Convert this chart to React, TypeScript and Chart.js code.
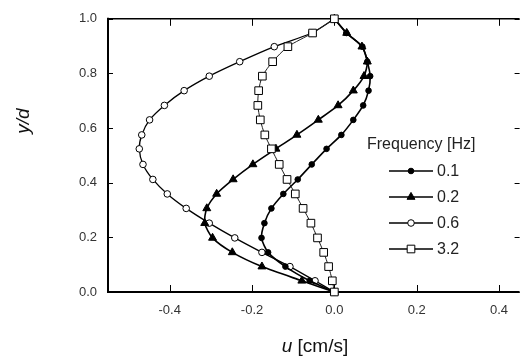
import React, { useEffect, useRef } from "react";
import { Chart, registerables } from "chart.js";

Chart.register(...registerables);

// ---- data ----
const ydValues = [0, 0.041, 0.093, 0.145, 0.198, 0.252, 0.306, 0.359, 0.412, 0.467, 0.524, 0.575, 0.63, 0.683, 0.737, 0.79, 0.843, 0.898, 0.948, 1.0];
const frequencyLabels = ["0.1", "0.2", "0.6", "3.2"];
const uFreq01 = [0, -0.06, -0.119, -0.161, -0.177, -0.17, -0.153, -0.124, -0.089, -0.055, -0.019, 0.017, 0.046, 0.07, 0.083, 0.087, 0.08, 0.068, 0.029, 0];
const uFreq02 = [0, -0.079, -0.176, -0.248, -0.296, -0.315, -0.31, -0.286, -0.246, -0.198, -0.142, -0.091, -0.039, 0.009, 0.046, 0.072, 0.08, 0.067, 0.03, 0];
const uFreq06 = [0, -0.047, -0.108, -0.176, -0.242, -0.304, -0.36, -0.406, -0.441, -0.465, -0.474, -0.468, -0.449, -0.413, -0.365, -0.304, -0.23, -0.146, -0.055, 0];
const uFreq32 = [0, -0.005, -0.014, -0.026, -0.041, -0.057, -0.076, -0.095, -0.115, -0.134, -0.153, -0.169, -0.18, -0.186, -0.184, -0.175, -0.15, -0.113, -0.053, 0];
const xTickValues = [-0.4, -0.2, 0, 0.2, 0.4];
const yTickValues = [0, 0.2, 0.4, 0.6, 0.8, 1.0];
const xRange = [-0.55, 0.45];
const yRange = [0, 1];
const legendTitle = "Frequency [Hz]";
const xTitleItalic = "u";
const xTitleRest = " [cm/s]";
const yTitle = "y/d";

const FONT = '"Liberation Sans", Arial, sans-serif';

function drawMarker(ctx: CanvasRenderingContext2D, style: string, x: number, y: number, r: number, fill: string) {
  ctx.save();
  ctx.fillStyle = fill;
  ctx.strokeStyle = "#000";
  ctx.lineWidth = 1;
  ctx.beginPath();
  if (style === "circle") {
    ctx.arc(x, y, r, 0, Math.PI * 2);
  } else if (style === "triangle") {
    let rad = 0;
    ctx.moveTo(x + Math.sin(rad) * r, y - Math.cos(rad) * r);
    rad += (2 * Math.PI) / 3;
    ctx.lineTo(x + Math.sin(rad) * r, y - Math.cos(rad) * r);
    rad += (2 * Math.PI) / 3;
    ctx.lineTo(x + Math.sin(rad) * r, y - Math.cos(rad) * r);
    ctx.closePath();
  } else {
    const s = r * Math.SQRT1_2;
    ctx.rect(x - s, y - s, 2 * s, 2 * s);
  }
  ctx.fill();
  ctx.stroke();
  ctx.restore();
}

const framePlugin = {
  id: "frame",
  beforeDatasetsDraw(chart: any) {
    const { ctx, chartArea } = chart;
    const { left, right, top, bottom } = chartArea;
    const xs = chart.scales.x;
    const ys = chart.scales.y;
    ctx.save();
    ctx.strokeStyle = "#000";
    ctx.lineWidth = 1;
    ctx.beginPath();
    xTickValues.forEach((v) => {
      const px = Math.round(xs.getPixelForValue(v)) + 0.5;
      ctx.moveTo(px, bottom);
      ctx.lineTo(px, bottom - 7);
      ctx.moveTo(px, top);
      ctx.lineTo(px, top + 7);
    });
    yTickValues.forEach((v) => {
      const py = Math.round(ys.getPixelForValue(v)) + 0.5;
      ctx.moveTo(left, py);
      ctx.lineTo(left + 5, py);
      ctx.moveTo(right, py);
      ctx.lineTo(right - 5, py);
    });
    ctx.stroke();
    ctx.lineWidth = 2;
    ctx.beginPath();
    ctx.moveTo(left, top - 1);
    ctx.lineTo(left, bottom + 1);
    ctx.moveTo(left - 1, bottom);
    ctx.lineTo(right, bottom);
    ctx.stroke();
    ctx.lineWidth = 1.5;
    ctx.beginPath();
    ctx.moveTo(left, top);
    ctx.lineTo(right, top);
    ctx.stroke();
    ctx.restore();
  },
};

const textPlugin = {
  id: "texts",
  beforeDraw(chart: any) {
    const { ctx, width, height } = chart;
    ctx.save();
    ctx.fillStyle = "#fff";
    ctx.fillRect(0, 0, width, height);
    ctx.restore();
  },
  afterDraw(chart: any) {
    const { ctx } = chart;
    ctx.save();
    ctx.fillStyle = "#111";
    ctx.textBaseline = "middle";
    ctx.font = `italic 19px ${FONT}`;
    const w1 = ctx.measureText(xTitleItalic).width;
    ctx.font = `19px ${FONT}`;
    const w2 = ctx.measureText(xTitleRest).width;
    const cx = 315;
    const cy = 347;
    const sx = cx - (w1 + w2) / 2;
    ctx.textAlign = "left";
    ctx.font = `italic 19px ${FONT}`;
    ctx.fillText(xTitleItalic, sx, cy);
    ctx.font = `19px ${FONT}`;
    ctx.fillText(xTitleRest, sx + w1, cy);
    ctx.save();
    ctx.translate(24, 121);
    ctx.rotate(-Math.PI / 2);
    ctx.textAlign = "center";
    ctx.font = `italic 19px ${FONT}`;
    ctx.fillText(yTitle, 0, 0);
    ctx.restore();

    ctx.fillStyle = "#222";
    ctx.font = `16px ${FONT}`;
    ctx.textAlign = "left";
    ctx.fillText(legendTitle, 367, 145);
    const sets = chart.data.datasets;
    sets.forEach((ds: any, i: number) => {
      const yy = 171 + i * 26;
      ctx.save();
      ctx.strokeStyle = "#000";
      ctx.lineWidth = 1.5;
      ctx.beginPath();
      ctx.moveTo(389, yy);
      ctx.lineTo(433, yy);
      ctx.stroke();
      ctx.restore();
      drawMarker(ctx, ds.pointStyle, 411, yy, ds.pointRadius, ds.pointBackgroundColor);
      ctx.fillStyle = "#222";
      ctx.fillText(ds.label, 437, yy + 0.5);
    });
    ctx.restore();
  },
};

export default function App() {
  const ref = useRef<HTMLCanvasElement>(null);
  useEffect(() => {
    const canvas = ref.current;
    if (!canvas) return;
    const series = [
      { label: frequencyLabels[0], u: uFreq01, style: "circle", radius: 2.8, fill: "#000", lw: 1.6, order: 1, color: "#000" },
      { label: frequencyLabels[1], u: uFreq02, style: "triangle", radius: 4.6, fill: "#000", lw: 1.6, order: 2, color: "#000" },
      { label: frequencyLabels[2], u: uFreq06, style: "circle", radius: 3.3, fill: "#fff", lw: 1.3, order: 3, color: "#000" },
      { label: frequencyLabels[3], u: uFreq32, style: "rect", radius: 5.4, fill: "#fff", lw: 1, order: 0, color: "#222" },
    ];
    const chart = new Chart(canvas, {
      type: "scatter",
      data: {
        datasets: series.map((s) => ({
          label: s.label,
          data: s.u.map((u, i) => ({ x: u, y: ydValues[i] })),
          showLine: true,
          borderColor: s.color,
          borderWidth: s.lw,
          pointStyle: s.style as any,
          pointRadius: s.radius,
          pointHoverRadius: s.radius,
          pointBackgroundColor: s.fill,
          pointBorderColor: "#000",
          pointBorderWidth: 1,
          tension: 0.25,
          order: s.order,
          clip: false as any,
        })),
      },
      options: {
        responsive: false,
        animation: false,
        devicePixelRatio: 1,
        events: [],
        layout: { padding: { top: 15, left: 0, right: 0, bottom: 0 } },
        plugins: { legend: { display: false }, tooltip: { enabled: false }, title: { display: false } },
        scales: {
          x: {
            type: "linear",
            min: xRange[0],
            max: xRange[1],
            afterFit: (s: any) => {
              s.height = 71;
            },
            afterBuildTicks: (s: any) => {
              s.ticks = xTickValues.map((v) => ({ value: v }));
            },
            grid: { display: false, drawTicks: false },
            border: { display: false },
            ticks: {
              padding: 11,
              color: "#333",
              font: { family: FONT, size: 13 },
              maxRotation: 0,
              callback: (v: any) => Number(v).toFixed(1),
            },
          },
          y: {
            type: "linear",
            min: yRange[0],
            max: yRange[1],
            afterFit: (s: any) => {
              s.width = 108;
            },
            afterBuildTicks: (s: any) => {
              s.ticks = yTickValues.map((v) => ({ value: v }));
            },
            grid: { display: false, drawTicks: false },
            border: { display: false },
            ticks: {
              padding: 11,
              color: "#333",
              font: { family: FONT, size: 13 },
              callback: (v: any) => Number(v).toFixed(1),
            },
          },
        },
      },
      plugins: [textPlugin, framePlugin],
    });
    return () => chart.destroy();
  }, []);
  return (
    <div style={{ position: "absolute", left: 0, top: 0, width: 526, height: 363, overflow: "hidden", background: "#fff" }}>
      <canvas ref={ref} width={526} height={363} style={{ display: "block" }} />
    </div>
  );
}
